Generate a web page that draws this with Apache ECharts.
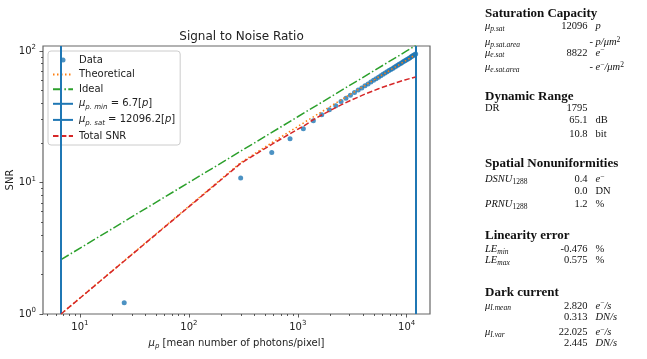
<!DOCTYPE html>
<html><head><meta charset="utf-8">
<script src="https://cdn.jsdelivr.net/npm/echarts@6/dist/echarts.min.js"></script>
<style>html,body{margin:0;padding:0;background:#fff}#c{width:647px;height:359px}</style>
</head><body><div id="c"></div>
<script>
// ---------- data ----------
const dataX = [25.5, 299, 577, 849, 1125, 1390, 1660, 1950, 2233, 2497, 2768, 3042, 3317, 3591, 3865, 4140, 4414, 4688, 4962, 5237, 5511, 5785, 6060, 6334, 6608, 6883, 7157, 7431, 7705, 7980, 8254, 8528, 8803, 9077, 9351, 9626, 9900, 10174, 10448, 10723, 10997, 11271, 11546, 11820, 12094];
const dataY = [1.22, 10.8, 16.9, 21.5, 25.6, 29.5, 32.8, 35.8, 38.4, 41.2, 43.8, 46.1, 48.3, 50.4, 52.4, 54.3, 56.2, 58.0, 59.8, 61.5, 63.2, 64.8, 66.4, 67.9, 69.4, 70.9, 72.3, 73.7, 75.1, 76.5, 77.8, 79.1, 80.4, 81.7, 83.0, 84.2, 85.4, 86.6, 87.8, 89.0, 90.2, 91.4, 92.6, 93.8, 95.0];
const curveX = [6.7, 299, 577, 849, 1125, 1390, 1660, 1950, 2233, 2497, 3042, 4140, 5511, 6883, 8254, 9626, 10997, 12094];
const theoY  = [1.00, 14.16, 20.06, 24.51, 28.31, 31.54, 34.52, 37.46, 40.12, 42.44, 46.89, 54.76, 63.23, 70.70, 77.45, 83.66, 89.43, 93.80];
const totalY = [1.00, 13.97, 19.51, 23.51, 26.81, 30.0, 32.6, 35.0, 37.1, 38.9, 42.0, 47.0, 51.6, 55.1, 57.9, 60.2, 62.1, 63.5];
const idealX = [6.7, 100, 1000, 10000, 12096];
const idealY = [2.59, 10.0, 31.62, 100.0, 110.0];
const vlineValues = [6.7, 12096.2];          // mu_p.min, mu_p.sat
const xRange = [4.58, 16370];
const yRange = [1, 109.1];
const xMajorTicks = [10, 100, 1000, 10000];
const xMinorTicks = [5, 6, 7, 8, 9, 20, 30, 40, 50, 60, 70, 80, 90, 200, 300, 400, 500, 600, 700, 800, 900, 2000, 3000, 4000, 5000, 6000, 7000, 8000, 9000];
const yMajorTicks = [1, 10, 100];
const yMinorTicks = [2, 3, 4, 5, 6, 7, 8, 9, 20, 30, 40, 50, 60, 70, 80, 90];

// right panel text
const panelTitles = ['Saturation Capacity', 'Dynamic Range', 'Spatial Nonuniformities', 'Linearity error', 'Dark current'];
const panelLabels = ['{m|μ}{s|p.sat}', '{m|μ}{s|p.sat.area}', '{m|μ}{s|e.sat}', '{m|μ}{s|e.sat.area}', '{r|DR}', '', '',
  '{m|DSNU}{n|1288}', '', '{m|PRNU}{n|1288}', '{m|LE}{s|min}', '{m|LE}{s|max}',
  '{m|μ}{s|I.mean}', '', '{m|μ}{s|I.var}', ''];
const panelValues = ['12096', '-', '8822', '-', '1795', '65.1', '10.8', '0.4', '0.0', '1.2', '-0.476', '0.575', '2.820', '0.313', '22.025', '2.445'];
const panelUnits = ['{m|p}', '{m|p/μm}{p|2}', '{m|e}{p|−}', '{m|e}{p|−}{m|/μm}{p|2}', '', '{r|dB}', '{r|bit}', '{m|e}{p|−}', '{r|DN}', '{r|%}', '{r|%}', '{r|%}',
  '{m|e}{p|−}{m|/s}', '{m|DN/s}', '{m|e}{p|−}{m|/s}', '{m|DN/s}'];

// ---------- layout / style ----------
const titleY = [14, 97, 163.5, 236, 293];
const rowY = [26.5, 42.3, 53, 67.5, 108.3, 120.5, 134.5, 179.5, 191, 204.3, 249.3, 260.5, 306, 317.5, 332.3, 343.5];
const sans = 'DejaVu Sans';
const serif = 'Liberation Serif';
const BLUE = '#1f77b4', ORANGE = '#ff7f0e', GREEN = '#2ca02c', RED = '#d62728';

function pow10(v) {
  const e = Math.round(Math.log10(v));
  return '{b|10}{e|' + e + '}';
}
const tickRich = {
  b: {fontFamily: sans, fontSize: 10, color: '#222', lineHeight: 14},
  e: {fontFamily: sans, fontSize: 7, color: '#222', verticalAlign: 'top', lineHeight: 9}
};
const mathRich = {
  t: {fontFamily: sans, fontSize: 10, color: '#222', lineHeight: 13},
  m: {fontFamily: sans, fontStyle: 'italic', fontSize: 10, color: '#222', lineHeight: 13},
  s: {fontFamily: sans, fontStyle: 'italic', fontSize: 7, color: '#222', verticalAlign: 'bottom', lineHeight: 8}
};
const panelRich = {
  r: {fontFamily: serif, fontSize: 10.5, color: '#111', lineHeight: 13},
  m: {fontFamily: serif, fontStyle: 'italic', fontSize: 10.5, color: '#111', lineHeight: 13},
  s: {fontFamily: serif, fontStyle: 'italic', fontSize: 7.5, color: '#111', verticalAlign: 'bottom', lineHeight: 8},
  n: {fontFamily: serif, fontSize: 7.5, color: '#111', verticalAlign: 'bottom', lineHeight: 8},
  p: {fontFamily: serif, fontSize: 7.5, color: '#111', verticalAlign: 'top', lineHeight: 9}
};

const legendText = {
  'Data': '{t|Data}', 'Theoretical': '{t|Theoretical}', 'Ideal': '{t|Ideal}',
  'pmin': '{m|μ}{s|p. min}{t| = ' + vlineValues[0] + '[}{m|p}{t|]}',
  'psat': '{m|μ}{s|p. sat}{t| = ' + vlineValues[1] + '[}{m|p}{t|]}',
  'Total SNR': '{t|Total SNR}'
};

const graphics = [];
panelTitles.forEach((t, i) => graphics.push({type: 'text', x: 485, y: titleY[i],
  style: {text: t, font: 'bold 13px "' + serif + '"', fill: '#111', verticalAlign: 'middle', align: 'left'}}));
panelLabels.forEach((t, i) => {
  if (t) graphics.push({type: 'text', x: 485, y: rowY[i], style: {text: t, rich: panelRich, verticalAlign: 'middle', align: 'left', fill: '#111'}});
  const v = panelValues[i];
  graphics.push({type: 'text', x: v === '-' ? 593 : 587.5, y: rowY[i],
    style: {text: v, font: '10.5px "' + serif + '"', fill: '#111', verticalAlign: 'middle', align: 'right'}});
  if (panelUnits[i]) graphics.push({type: 'text', x: 595.5, y: rowY[i], style: {text: panelUnits[i], rich: panelRich, verticalAlign: 'middle', align: 'left', fill: '#111'}});
});

const zip = (xs, ys) => xs.map((x, i) => [x, ys[i]]);
const tickLine = {color: '#333', width: 0.8};
const hideSym = {opacity: 0};

const option = {
  animation: false,
  backgroundColor: '#fff',
  title: {text: 'Signal to Noise Ratio', left: 236.5, textAlign: 'center', top: 26,
    textStyle: {fontFamily: sans, fontSize: 12, fontWeight: 'normal', color: '#222'}},
  grid: {left: 43, right: 217, top: 46, bottom: 45, show: true, borderColor: '#666', borderWidth: 1.2,
    backgroundColor: 'transparent', containLabel: false, outerBoundsMode: 'none'},
  xAxis: [
    {type: 'log', logBase: 10, min: xRange[0], max: xRange[1], position: 'bottom',
      axisLine: {show: false}, splitLine: {show: false},
      axisTick: {show: true, length: 3.5, lineStyle: tickLine, customValues: xMajorTicks},
      axisLabel: {customValues: xMajorTicks, formatter: pow10, rich: tickRich, margin: 6},
      name: '{m|μ}{s|p}{t| [mean number of photons/pixel]}', nameLocation: 'middle', nameGap: 23,
      nameMoveOverlap: false, nameTextStyle: {rich: mathRich}},
    {type: 'log', logBase: 10, min: xRange[0], max: xRange[1], position: 'bottom', offset: 0,
      axisLine: {show: false}, splitLine: {show: false}, axisLabel: {show: false},
      axisTick: {show: true, length: 2, lineStyle: tickLine, customValues: xMinorTicks}}
  ],
  yAxis: [
    {type: 'log', logBase: 10, min: yRange[0], max: yRange[1], position: 'left',
      axisLine: {show: false}, splitLine: {show: false},
      axisTick: {show: true, length: 3.5, lineStyle: tickLine, customValues: yMajorTicks},
      axisLabel: {customValues: yMajorTicks, formatter: pow10, rich: tickRich, margin: 7},
      name: 'SNR', nameLocation: 'middle', nameGap: 28, nameRotate: 90, nameMoveOverlap: false,
      nameTextStyle: {fontFamily: sans, fontSize: 10, color: '#222'}},
    {type: 'log', logBase: 10, min: yRange[0], max: yRange[1], position: 'left', offset: 0,
      axisLine: {show: false}, splitLine: {show: false}, axisLabel: {show: false},
      axisTick: {show: true, length: 2, lineStyle: tickLine, customValues: yMinorTicks}}
  ],
  legend: {
    orient: 'vertical', left: 48, top: 51,
    data: [
      {name: 'Data'},
      {name: 'Theoretical', itemStyle: hideSym},
      {name: 'Ideal', itemStyle: hideSym},
      {name: 'pmin', itemStyle: hideSym},
      {name: 'psat', itemStyle: hideSym},
      {name: 'Total SNR', itemStyle: hideSym}
    ],
    itemWidth: 20, itemHeight: 5, itemGap: 4.6,
    padding: [4, 5, 4, 4], borderColor: '#ccc', borderWidth: 1, borderRadius: 3,
    backgroundColor: 'rgba(255,255,255,0.8)',
    formatter: n => legendText[n],
    textStyle: {rich: mathRich, padding: [0, 0, 0, 1]}
  },
  series: [
    {name: 'Data', type: 'scatter', data: zip(dataX, dataY), symbolSize: 5, itemStyle: {color: BLUE}, z: 3},
    {name: 'Theoretical', type: 'line', data: zip(curveX, theoY), symbol: 'none', lineStyle: {color: ORANGE, width: 1.5, type: [1.5, 2.5]}, itemStyle: {color: ORANGE}, z: 4},
    {name: 'Ideal', type: 'line', data: zip(idealX, idealY), symbol: 'none', lineStyle: {color: GREEN, width: 1.5, type: [9, 2.4, 1.5, 2.4]}, itemStyle: {color: GREEN}, z: 4},
    {name: 'pmin', type: 'line', data: [], symbol: 'none', lineStyle: {color: BLUE, width: 2}, itemStyle: {color: BLUE},
      markLine: {silent: true, symbol: 'none', label: {show: false}, lineStyle: {color: BLUE, width: 2, type: 'solid'}, data: [{xAxis: vlineValues[0]}]}},
    {name: 'psat', type: 'line', data: [], symbol: 'none', lineStyle: {color: BLUE, width: 2}, itemStyle: {color: BLUE},
      markLine: {silent: true, symbol: 'none', label: {show: false}, lineStyle: {color: BLUE, width: 2, type: 'solid'}, data: [{xAxis: vlineValues[1]}]}},
    {name: 'Total SNR', type: 'line', data: zip(curveX, totalY), symbol: 'none', lineStyle: {color: RED, width: 1.5, type: [5.5, 2.4]}, itemStyle: {color: RED}, z: 5}
  ],
  graphic: graphics
};
const chart = echarts.init(document.getElementById('c'));
chart.setOption(option);
</script></body></html>
